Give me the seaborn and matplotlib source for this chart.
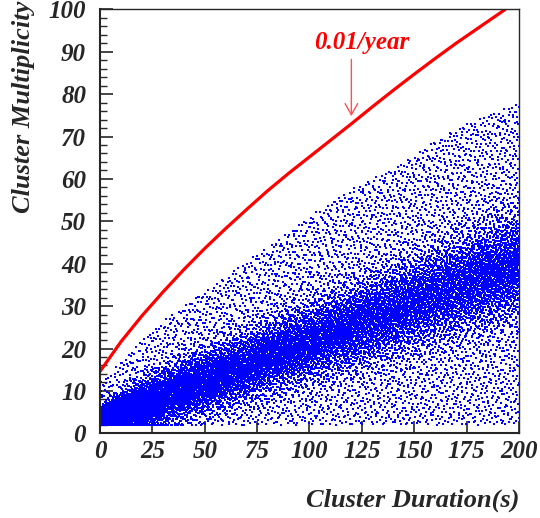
import math
import numpy as np
import pandas as pd
import matplotlib
matplotlib.use("Agg")
import matplotlib.pyplot as plt
from matplotlib.ticker import MultipleLocator
import seaborn as sns

# ---------------- data ----------------
# 0.01/year threshold curve (cluster duration [s] -> multiplicity)
curve_x = [0, 10, 20, 30, 40, 50, 60, 70, 80, 90, 100, 110, 120, 130, 140,
           150, 160, 170, 180, 190, 193.5]
curve_y = [14.6, 21.6, 27.7, 33.3, 38.6, 43.6, 48.3, 52.8, 57.2, 61.3, 65.2,
           69.1, 73.0, 77.0, 80.9, 84.7, 88.4, 92.0, 95.4, 98.8, 100.0]

# Scatter cloud, described per 10 s knot
knot_x = [0, 10, 20, 30, 40, 50, 60, 70, 80, 90, 100, 110, 120, 130, 140,
          150, 160, 170, 180, 190, 200]
core_center = [2.8, 4.5, 6.5, 8.5, 10.5, 12.3, 14.0, 16.0, 18.0, 19.8, 21.5,
               23.2, 25.0, 27.0, 29.0, 31.0, 32.8, 34.6, 36.4, 38.2, 40.0]
core_spread = [1.4, 2.3, 3.0, 3.4, 3.7, 3.9, 4.1, 4.3, 4.5, 4.7, 4.9, 5.1,
               5.3, 5.5, 5.6, 5.8, 6.0, 6.2, 6.3, 6.5, 6.6]
upper_edge = [12.0, 17.0, 22.0, 26.5, 30.0, 33.5, 37.0, 40.5, 44.0, 47.5,
              51.0, 54.5, 57.5, 60.0, 62.5, 65.5, 69.0, 72.0, 74.0, 76.0, 78.0]
lower_edge = 2.0
# dots in the dense band per 10 s bin
core_counts = [1300, 700, 580, 540, 510, 490, 480, 480, 480, 480,
               480, 480, 480, 480, 480, 480, 480, 500, 520, 560]
halo_density = 0.55   # sparse dots per (1 s x 1 multiplicity) outside the band

x_ticks = [0, 25, 50, 75, 100, 125, 150, 175, 200]
y_ticks = [0, 10, 20, 30, 40, 50, 60, 70, 80, 90, 100]


# ---------------- deterministic (low-discrepancy) rendering of the read density ----------------
def halton(n, base, start):
    idx = np.arange(start, start + n)
    out = np.zeros(n)
    f = 1.0
    while np.any(idx > 0):
        f /= base
        out += f * (idx % base)
        idx = idx // base
    return out


# inverse normal CDF by table lookup
zz = np.linspace(-4, 4, 801)
cdf = np.array([0.5 * (1 + math.erf(t / math.sqrt(2))) for t in zz])

edges = np.array(knot_x, dtype=float)
kx = np.array(knot_x, float)

# dense band
core_counts_a = np.array(core_counts, float)
n_core = int(core_counts_a.sum())
cum = np.concatenate([[0], np.cumsum(core_counts_a)]) / core_counts_a.sum()
ux = halton(n_core, 2, 100)
uy = halton(n_core, 3, 100)
cx = np.interp(ux, cum, edges)
z = np.interp(uy, cdf, zz)
cy = np.interp(cx, kx, core_center) + np.interp(cx, kx, core_spread) * z
cy = np.clip(cy, lower_edge, np.interp(cx, kx, upper_edge))

# sparse halo
heights = (np.array(upper_edge[:-1]) + np.array(upper_edge[1:])) / 2 - lower_edge
halo_counts = heights * 10 * halo_density
n_halo = int(halo_counts.sum())
cumh = np.concatenate([[0], np.cumsum(halo_counts)]) / halo_counts.sum()
vx = halton(n_halo, 2, 100 + n_core + 7)
vy = halton(n_halo, 3, 100 + n_core + 7)
hx = np.interp(vx, cumh, edges)
hy = lower_edge + (np.interp(hx, kx, upper_edge) - lower_edge) * vy

df = pd.DataFrame({"duration": np.concatenate([cx, hx]),
                   "multiplicity": np.concatenate([cy, hy])})

# ---------------- plotting ----------------
sns.set_style("ticks")
plt.rcParams["font.family"] = ["Liberation Serif", "DejaVu Serif"]
plt.rcParams["font.style"] = "italic"
plt.rcParams["font.weight"] = "bold"
FS = 18
fkw = dict(fontsize=FS, fontweight="bold", fontstyle="italic")
lkw = dict(fontsize=19, fontweight="bold", fontstyle="italic")

fig = plt.figure(figsize=(5.4, 5.18), dpi=100)
ax = fig.add_axes([0.1852, 0.1635, 0.961 - 0.1852, 0.982 - 0.1635])

sns.scatterplot(data=df, x="duration", y="multiplicity", ax=ax, marker="s",
                s=0.6, color="#0000ff", linewidth=0, legend=False,
                antialiased=False)
sns.lineplot(x=curve_x, y=curve_y, ax=ax, color="#ff0000", lw=2.3,
             sort=False, estimator=None)

ax.text(125, 90.6, "0.01/year", color="#ff0000", ha="center",
        va="baseline", **fkw)
ax.annotate("", xy=(120, 74.8), xytext=(120, 88.2),
            arrowprops=dict(arrowstyle="->,head_length=0.8,head_width=0.45",
                            color="#ff5050", lw=1.0, mutation_scale=10,
                            shrinkA=0, shrinkB=0))

ax.set_xlim(0, 200)
ax.set_ylim(0, 100)
ax.set_xticks(x_ticks)
ax.set_yticks(y_ticks)
ax.set_xticklabels([str(t) for t in x_ticks], **fkw)
ax.set_yticklabels([str(t) for t in y_ticks], **fkw)
ax.yaxis.set_minor_locator(MultipleLocator(2))
ax.tick_params(axis="both", which="major", direction="in", length=9,
               width=1.2, top=False, right=False)
ax.tick_params(axis="y", which="major", pad=10)
ax.tick_params(axis="x", which="major", pad=5)
ax.tick_params(axis="y", which="minor", direction="in", length=5, width=1.0,
               right=False)
for side in ["left", "bottom"]:
    ax.spines[side].set_linewidth(1.5)
for side in ["top", "right"]:
    ax.spines[side].set_linewidth(1.0)
    ax.spines[side].set_visible(True)

ax.set_xlabel("Cluster Duration(s)", loc="right", **lkw)
ax.xaxis.set_label_coords(1.0, -0.13)
ax.set_ylabel("Cluster Multiplicity", loc="top", **lkw)
ax.yaxis.set_label_coords(-0.155, 1.02)

fig.savefig("out.png", dpi=100)
